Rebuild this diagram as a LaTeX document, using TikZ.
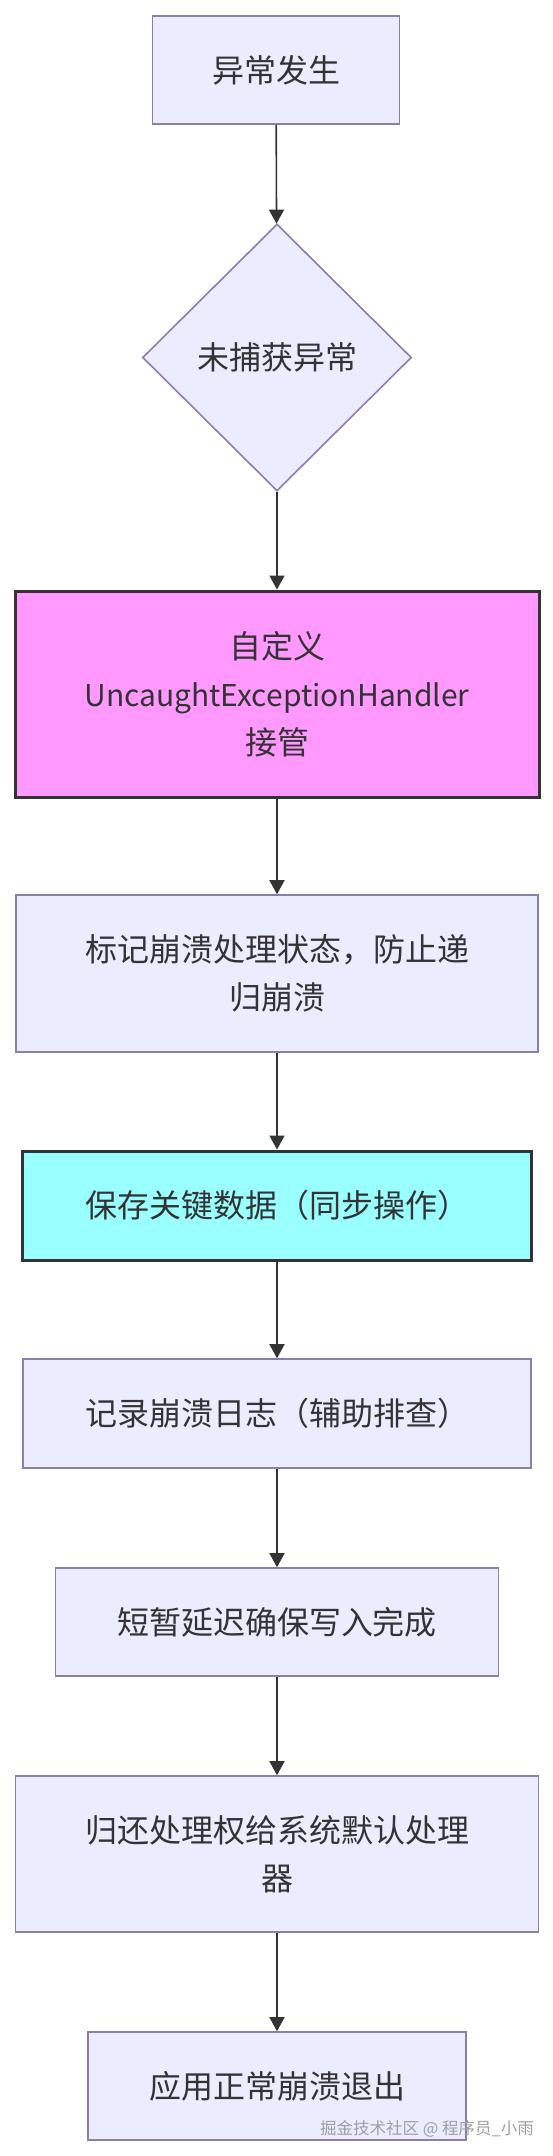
\documentclass[tikz,border=0pt]{standalone}
\usepackage{fontspec}
\setmainfont{Noto Sans CJK SC}
\usepackage{tikz}
\usetikzlibrary{shapes.geometric}
\usetikzlibrary{arrows.meta}
\usepackage{xcolor}
\definecolor{boxfill}{HTML}{ECECFF}
\definecolor{boxline}{RGB}{140,125,172}
\definecolor{ink}{HTML}{333333}
\definecolor{pinkfill}{HTML}{FF99FF}
\definecolor{cyanfill}{HTML}{99FFFF}

\begin{document}
\begin{tikzpicture}[x=1pt,y=-1pt,
  every node/.style={font=\fontsize{32}{48}\selectfont,text=ink,align=center,inner sep=0pt},
  plainbox/.style={draw=boxline,fill=boxfill,line width=1.6pt,minimum width=#1},
  pinkbox/.style={draw=ink,fill=pinkfill,line width=3pt,minimum width=524pt,minimum height=206pt},
  cyanbox/.style={draw=ink,fill=cyanfill,line width=3pt,minimum width=509pt,minimum height=109pt},
  decide/.style={diamond,draw=boxline,fill=boxfill,line width=1.6pt,minimum width=269pt,minimum height=267pt},
  flow/.style={draw=ink,line width=1.6pt,-{Triangle[length=14pt,width=15pt]}}]
\useasboundingbox (0,0) rectangle (552,2156);
\node[plainbox=247pt,minimum height=108pt] (start) at (276,70) {异常发生};
\node[decide] (uncaught) at (277,357.5) {未捕获异常};
\node[pinkbox] (handler) at (277,694) {自定义\\{\fontsize{30}{48}\selectfont UncaughtExceptionHandler}\\接管};
\node[plainbox=522pt,minimum height=157pt] (mark) at (277,973.5) {标记崩溃处理状态，防止递\\归崩溃};
\node[cyanbox] (save) at (277,1205.5) {保存关键数据（同步操作）};
\node[plainbox=508pt,minimum height=109pt] (log) at (277,1413.5) {记录崩溃日志（辅助排查）};
\node[plainbox=443pt,minimum height=108pt] (delay) at (277,1622) {短暂延迟确保写入完成};
\node[plainbox=523pt,minimum height=156pt] (giveback) at (277,1854) {归还处理权给系统默认处理\\器};
\node[plainbox=378pt,minimum height=108pt] (quit) at (277,2086) {应用正常崩溃退出};
% connectors
\draw[flow] (start) -- (uncaught);
\draw[flow] (uncaught) -- (handler);
\draw[flow] (handler) -- (mark);
\draw[flow] (mark) -- (save);
\draw[flow] (save) -- (log);
\draw[flow] (log) -- (delay);
\draw[flow] (delay) -- (giveback);
\draw[flow] (giveback) -- (quit);
\node[font=\fontsize{16.5}{18}\selectfont,text=gray!75] (wmark) at (427,2129) {掘金技术社区 @ 程序员\_小雨};
\end{tikzpicture}
\end{document}
